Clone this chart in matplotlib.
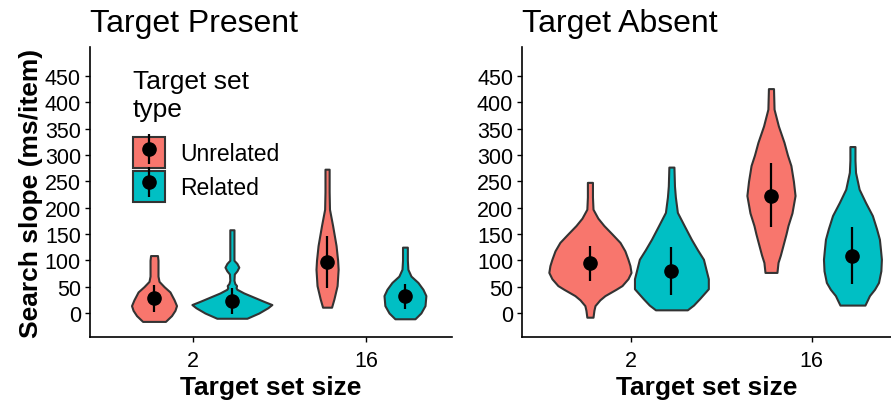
import matplotlib
matplotlib.use("Agg")
import matplotlib.pyplot as plt
from matplotlib.patches import Patch
from matplotlib.lines import Line2D

plt.rcParams['font.family'] = ['Liberation Sans', 'DejaVu Sans']

# categories
sizes = ['2', '16']
groups = ['Unrelated', 'Related']
colors = ['#F8766D', '#00BFC4']
titles = ['Target Present', 'Target Absent']

# violin outlines: (search slope, half width in x units)
present_unrel_2 = [(-16, 0.066), (-5, 0.101), (5, 0.121), (14, 0.130), (25, 0.116),
                   (40, 0.092), (50, 0.058), (60, 0.029), (70, 0.023), (100, 0.023),
                   (109, 0.020)]
present_rel_2 = [(-10, 0.087), (0, 0.156), (10, 0.208), (16, 0.231), (22, 0.185),
                 (30, 0.127), (38, 0.069), (45, 0.029), (48, 0.024), (52, 0.027),
                 (56, 0.017), (62, 0.012), (74, 0.014), (80, 0.029), (87, 0.040),
                 (94, 0.029), (100, 0.012), (110, 0.012), (158, 0.012)]
present_unrel_16 = [(11, 0.026), (27, 0.040), (52, 0.058), (83, 0.064), (100, 0.061),
                    (128, 0.052), (166, 0.032), (197, 0.014), (230, 0.012), (273, 0.012)]
present_rel_16 = [(-11, 0.058), (0, 0.092), (14, 0.116), (33, 0.121), (45, 0.104),
                  (58, 0.075), (70, 0.035), (83, 0.017), (100, 0.014), (125, 0.014)]

absent_unrel_2 = [(-8, 0.017), (5, 0.022), (14, 0.028), (25, 0.055), (33, 0.083),
                  (45, 0.144), (52, 0.177), (65, 0.210), (77, 0.227), (90, 0.221),
                  (102, 0.210), (118, 0.193), (134, 0.166), (150, 0.122), (166, 0.077),
                  (180, 0.044), (197, 0.017), (220, 0.014), (248, 0.014)]
absent_rel_2 = [(6, 0.088), (15, 0.122), (27, 0.155), (46, 0.204), (65, 0.204),
                (80, 0.193), (102, 0.177), (120, 0.144), (140, 0.110), (165, 0.072),
                (191, 0.033), (220, 0.022), (241, 0.017), (277, 0.014)]
absent_unrel_16 = [(77, 0.033), (96, 0.039), (110, 0.052), (128, 0.066), (150, 0.083),
                   (166, 0.094), (190, 0.116), (223, 0.133), (250, 0.124), (280, 0.110),
                   (300, 0.091), (324, 0.072), (355, 0.041), (387, 0.017), (426, 0.014)]
absent_rel_16 = [(15, 0.069), (25, 0.083), (33, 0.094), (45, 0.122), (58, 0.144),
                 (80, 0.157), (102, 0.160), (120, 0.155), (140, 0.149), (160, 0.133),
                 (185, 0.110), (210, 0.072), (235, 0.037), (267, 0.017), (290, 0.014),
                 (316, 0.014)]

# means and interval ends, per set size
present_unrel_mean = [28, 96]
present_unrel_lo = [1, 47]
present_unrel_hi = [53, 146]
present_rel_mean = [23, 32]
present_rel_lo = [-2, 8]
present_rel_hi = [47, 55]

absent_unrel_mean = [94, 223]
absent_unrel_lo = [61, 163]
absent_unrel_hi = [128, 284]
absent_rel_mean = [79, 109]
absent_rel_lo = [34, 55]
absent_rel_hi = [125, 163]

yticks = list(range(0, 451, 50))

panel_violins = [
    [[present_unrel_2, present_unrel_16], [present_rel_2, present_rel_16]],
    [[absent_unrel_2, absent_unrel_16], [absent_rel_2, absent_rel_16]],
]
panel_stats = [
    [(present_unrel_mean, present_unrel_lo, present_unrel_hi),
     (present_rel_mean, present_rel_lo, present_rel_hi)],
    [(absent_unrel_mean, absent_unrel_lo, absent_unrel_hi),
     (absent_rel_mean, absent_rel_lo, absent_rel_hi)],
]

fig = plt.figure(figsize=(8.91, 4.02), dpi=100)
ax1 = fig.add_axes([0.1010, 0.1592, 0.4063, 0.7214])
ax2 = fig.add_axes([0.5859, 0.1592, 0.4141, 0.7214])

dodge = 0.225
edge = '#333333'


def draw_violin(ax, center, profile, color):
    ys = [p[0] for p in profile]
    ws = [p[1] for p in profile]
    ax.fill_betweenx(ys, [center - w for w in ws], [center + w for w in ws],
                     facecolor=color, edgecolor=edge, linewidth=1.5,
                     joinstyle='round', zorder=2)


for ax, title, violins, stats, xlim in zip([ax1, ax2], titles, panel_violins,
                                           panel_stats, [(0.405, 2.497), (0.4, 2.438)]):
    for gi, color in enumerate(colors):
        shift = -dodge if gi == 0 else dodge
        mean, lo, hi = stats[gi]
        for si in range(len(sizes)):
            xc = si + 1 + shift
            draw_violin(ax, xc, violins[gi][si], color)
            ax.vlines(xc, lo[si], hi[si], color='black', linewidth=1.6, zorder=3)
            ax.plot(xc, mean[si], 'o', color='black', markersize=9.5, zorder=4)

    ax.set_xlim(*xlim)
    ax.set_ylim(-45.6, 505)
    ax.set_xticks([1, 2])
    ax.set_xticklabels(sizes)
    ax.set_yticks(yticks)
    ax.spines['top'].set_visible(False)
    ax.spines['right'].set_visible(False)
    ax.spines['left'].set_linewidth(1.2)
    ax.spines['bottom'].set_linewidth(1.2)
    ax.tick_params(labelsize=15.5, length=3.5, width=1.0, colors='black', pad=3)
    ax.tick_params(axis='x', pad=6)
    ax.set_xlabel('Target set size', fontsize=19, fontweight='bold', labelpad=3)
    ax.set_title(title, loc='left', fontsize=23, pad=11.5)

ax1.set_ylabel('Search slope (ms/item)', fontsize=19, fontweight='bold', labelpad=1.5)

handles = []
for color in colors:
    handles.append((
        Patch(facecolor=color, edgecolor=edge, linewidth=1.5),
        Line2D([], [], color='black', marker='|', markersize=21,
               markeredgewidth=1.6, linestyle='None'),
        Line2D([], [], color='black', marker='o', markersize=9.5, linestyle='None'),
    ))

leg = ax1.legend(handles, groups, title='Target set\ntype', loc='upper left',
                 bbox_to_anchor=(0.1493, 0.826), bbox_transform=fig.transFigure,
                 frameon=False, fontsize=16.5, title_fontsize=19, numpoints=1,
                 handlelength=1.40, handleheight=1.706, handletextpad=0.65,
                 labelspacing=0.1, borderpad=0, borderaxespad=0, alignment='left')
# gap between the legend title and the keys
leg._legend_box.sep = 12

fig.savefig('out.png', dpi=100)
